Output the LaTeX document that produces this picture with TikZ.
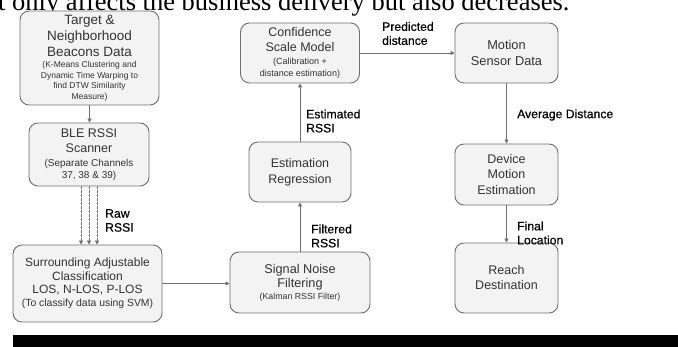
\documentclass[tikz,border=0pt]{standalone}
\usepackage{fontspec}
\setmainfont{Liberation Sans}
\newfontfamily\seriff{Liberation Serif}
\newfontfamily\lblf{Liberation Sans}[FakeBold=0.5]
\usetikzlibrary{arrows.meta}
\definecolor{boxfill}{HTML}{F3F3F3}
\definecolor{boxline}{HTML}{707070}
\definecolor{boxtext}{HTML}{333333}
\definecolor{arr}{HTML}{707070}
\begin{document}
\begin{tikzpicture}[x=1pt,y=-1pt,
  box/.style={draw=boxline, fill=boxfill, rounded corners=9pt, line width=0.9pt,
              inner sep=0pt, align=center, text=boxtext},
  lbl/.style={anchor=west, align=left, inner sep=0pt,
              font=\lblf\fontsize{12.2}{14}\selectfont, text=black},
  flow/.style={draw=arr, line width=0.9pt, -{Triangle[length=4pt,width=4pt]}},
  dflow/.style={flow, dash pattern=on 2.5pt off 1.5pt}]
\useasboundingbox (0,0) rectangle (678,347);
\fill[white] (0,0) rectangle (678,347);
\begin{scope}
  \clip (0,0) rectangle (678,347);
  \node[anchor=base west, inner sep=0pt, font=\seriff\fontsize{26.5}{30}\selectfont] (toptext) at (-2,11)
    {t only affects the business delivery but also decreases.};
\end{scope}
\fill[black] (12.5,335) rectangle (678,347);

% boxes
\node[box, minimum width=139pt, minimum height=94pt, font=\fontsize{13.5}{16}\selectfont] (tgt) at (89.5,58)
  {Target \&\\Neighborhood\\Beacons Data\\[-5pt]{\fontsize{8.5}{10}\selectfont (K-Means Clustering and}\\[-5.5pt]{\fontsize{8.5}{10}\selectfont Dynamic Time Warping to}\\[-5.5pt]{\fontsize{8.5}{10}\selectfont find DTW Similarity}\\[-5.5pt]{\fontsize{8.5}{10}\selectfont Measure)}};
\node[box, minimum width=120pt, minimum height=63pt, font=\fontsize{12.5}{15.5}\selectfont] (ble) at (89,154.5)
  {BLE RSSI\\Scanner\\[-2.2pt]{\fontsize{10}{12}\selectfont (Separate Channels}\\[-3.5pt]{\fontsize{10}{12}\selectfont 37, 38 \& 39)}};
\node[box, minimum width=149pt, minimum height=77pt, font=\fontsize{12}{13.3}\selectfont] (sur) at (87.5,283.5)
  {Surrounding Adjustable\\Classification\\LOS, N-LOS, P-LOS\\{\fontsize{10.4}{12}\selectfont (To classify data using SVM)}};
\node[box, minimum width=140pt, minimum height=61pt, font=\fontsize{12.7}{14.3}\selectfont] (snf) at (300,282.5)
  {Signal Noise\\Filtering\\[-2.9pt]{\fontsize{8.8}{10}\selectfont (Kalman RSSI Filter)}};
\node[box, minimum width=102pt, minimum height=60pt, font=\fontsize{12.5}{15.7}\selectfont] (est) at (300,172)
  {Estimation\\Regression};
\node[box, minimum width=119pt, minimum height=60pt, font=\fontsize{12.5}{15}\selectfont] (conf) at (300,53)
  {Confidence\\Scale Model\\[-1.7pt]{\fontsize{9}{11}\selectfont (Calibration +}\\[-3.3pt]{\fontsize{9}{11}\selectfont distance estimation)}};
\node[box, minimum width=103pt, minimum height=60pt, font=\fontsize{12.8}{16.7}\selectfont] (mot) at (506.5,53)
  {Motion\\Sensor Data};
\node[box, minimum width=103pt, minimum height=61pt, font=\fontsize{12.5}{15.3}\selectfont] (dev) at (506.5,174.5)
  {Device\\Motion\\Estimation};
\node[box, minimum width=103pt, minimum height=70pt, font=\fontsize{12.5}{15}\selectfont] (rch) at (506.5,278)
  {Reach\\Destination};

% connectors
\draw[flow] (tgt.south) -- (tgt.south |- ble.north);
\draw[dflow] ([xshift=-8pt]ble.south) -- ([xshift=-8pt]ble.south |- sur.north);
\draw[dflow] (ble.south) -- (ble.south |- sur.north);
\draw[dflow] ([xshift=8pt]ble.south) -- ([xshift=8pt]ble.south |- sur.north);
\draw[flow] (sur.east) -- (sur.east -| snf.west);
\draw[flow] (snf.north) -- (est.south);
\draw[flow] (est.north) -- (conf.south);
\draw[flow] (conf.east) -- (mot.west);
\draw[flow] (mot.south) -- (dev.north);
\draw[flow] (dev.south) -- (rch.north);

% labels
\node[lbl] (lraw) at (105,220.5) {Raw\\RSSI};
\node[lbl] (lestd) at (306,121) {Estimated\\RSSI};
\node[lbl] (lfilt) at (311,236) {Filtered\\RSSI};
\node[lbl] (lpred) at (382,33.5) {Predicted\\distance};
\node[lbl] (lavg) at (517,115) {Average Distance};
\node[lbl] (lfin) at (517,233) {Final\\Location};
\end{tikzpicture}
\end{document}
